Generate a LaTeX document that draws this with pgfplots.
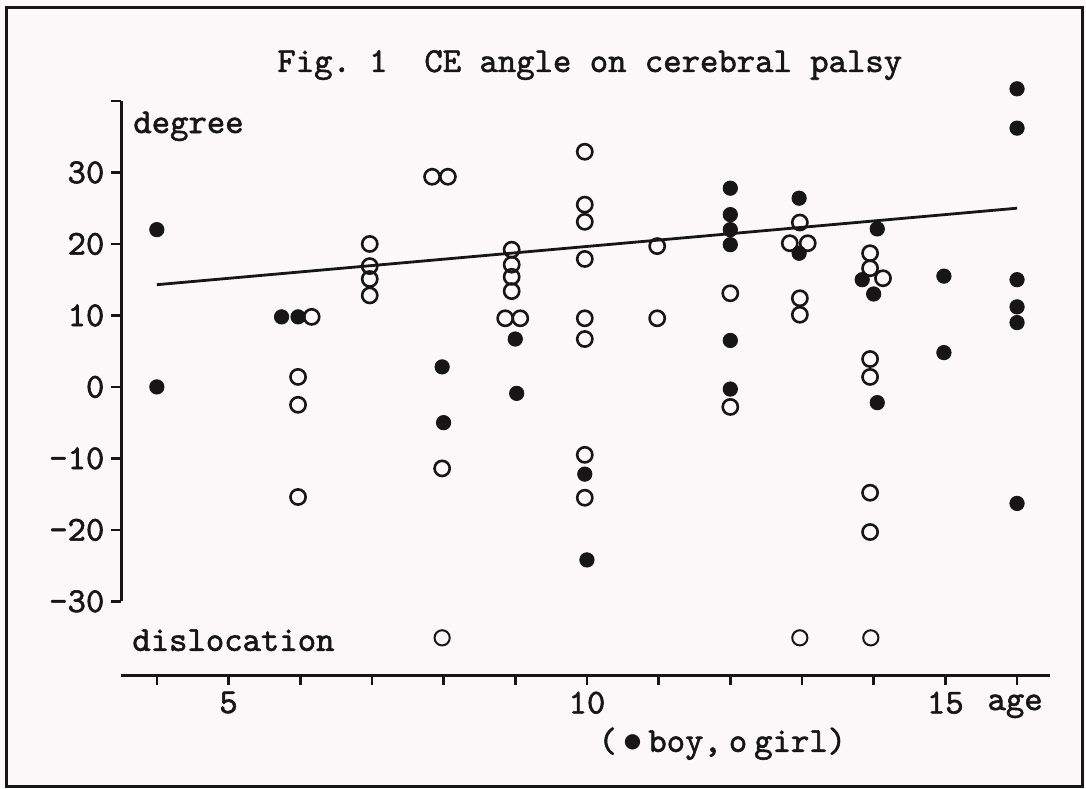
\documentclass[border=0pt]{standalone}
\usepackage{fontspec}
\usepackage{pgfplots}
\pgfplotsset{compat=1.18}
\newfontfamily\dv{DejaVu Sans}
\newfontfamily\tw{lmmono10-regular.otf}[FakeBold=1.6]
\definecolor{ink}{RGB}{22,22,22}
\definecolor{bg}{RGB}{252,247,248}
\newcommand\T{\tw\fontsize{17.5}{21}\selectfont\frenchspacing}
\begin{document}
\begin{tikzpicture}
\fill[bg] (-60.5pt,-56.5pt) rectangle (482.5pt,337.5pt);
\draw[ink, line width=1.5pt] (-57pt,-55.5pt) rectangle (480.5pt,333.5pt);
\begin{axis}[
  at={(0,0)}, anchor=south west,
  scale only axis, width=464.5pt, height=288.8pt,
  xmin=3.5, xmax=16.46, ymin=-40.3, ymax=40.5,
  axis x line=bottom, axis y line=left,
  axis line style={-},
  x axis line style={-, ink, line width=1.5pt},
  y axis line style={draw=none},
  xtick={4,...,16}, xticklabels={,5,,,,,10,,,,,15,},
  ytick={-30,-20,...,40}, yticklabels={-30,-20,-10,0,10,20,30,},
  tick align=outside,
  major tick length=4.8pt,
  tick style={ink, line width=1.3pt},
  ticklabel style={font=\T, text=ink},
  clip=false,
]
% regression line
\addplot[ink, line width=1.4pt, no marks] coordinates {(4,14.3) (16,25.0)};
% boys (filled)
\addplot[only marks, mark=*, mark size=3.6pt, draw=ink, fill=ink, line width=0.4pt] coordinates {
(4,22.0) (4,0)
(5.74,9.8) (5.97,9.8)
(7.98,2.8) (8.0,-5.0)
(9.0,6.7) (9.02,-0.9)
(9.97,-12.2) (10.0,-24.2)
(12.0,27.8) (12.0,24.1) (12.0,22.0) (12.0,19.9) (12.0,6.5) (12.0,-0.3)
(12.96,26.4) (12.96,18.7)
(14.05,22.1) (13.84,15.0) (14.0,13.0) (14.05,-2.2)
(14.98,15.5) (14.98,4.8)
(16.0,41.7) (16.0,36.2) (16.0,15.0) (16.0,11.2) (16.0,9.0) (16.0,-16.3)
};
% girls (open)
\addplot[only marks, mark=o, mark size=3.8pt, draw=ink, line width=1.3pt] coordinates {
(6.16,9.8) (5.97,1.4) (5.97,-2.5) (5.97,-15.4)
(6.97,20.0) (6.97,16.9) (6.97,15.1) (6.97,12.8)
(7.84,29.4) (8.06,29.4) (7.98,-11.4)
(8.95,19.2) (8.95,17.1) (8.95,15.4) (8.95,13.4) (8.86,9.6) (9.07,9.6)
(9.97,32.9) (9.97,25.5) (9.97,23.1) (9.97,17.9) (9.97,9.6) (9.97,6.7) (9.97,-9.5) (9.97,-15.5)
(10.98,19.7) (10.98,9.6)
(12.0,13.1) (12.0,-2.8)
(12.97,23.0) (12.83,20.1) (13.08,20.1) (12.97,12.4) (12.97,10.1)
(13.95,18.7) (13.95,16.6) (14.13,15.2) (13.95,3.9) (13.95,1.4) (13.95,-14.8) (13.95,-20.3)
};
% dislocation (open)
\addplot[only marks, mark=o, mark size=3.8pt, draw=ink, line width=1.0pt] coordinates {
(7.98,-35.1) (12.97,-35.1) (13.96,-35.1)
};
% y axis line (from -30 to 40)
\draw[ink, line width=1.5pt] (axis cs:3.5,-30) -- (axis cs:3.5,40);
\node[anchor=base, font=\T, text=ink, inner sep=0pt] at (axis cs:10.04,44.06) {Fig.\ 1\ \ CE angle on cerebral palsy};
\node[anchor=base west, font=\T, text=ink, inner sep=0pt] at (axis cs:3.667,35.52) {degree};
\node[anchor=base west, font=\T, text=ink, inner sep=0pt] at (axis cs:3.653,-36.92) {dislocation};
\node[anchor=base west, font=\T, text=ink, inner sep=0pt] at (axis cs:15.583,-45.2) {age};
\node[anchor=base west, font=\T, text=ink, inner sep=0pt] at (axis cs:10.156,-51.05) {(\hspace{0.2em}\raisebox{0.12em}{\dv\fontsize{10}{10}\selectfont ●}\hspace{0.2em}boy,\hspace{0.2em}o\hspace{0.2em}girl)};
\end{axis}
\end{tikzpicture}
\end{document}
